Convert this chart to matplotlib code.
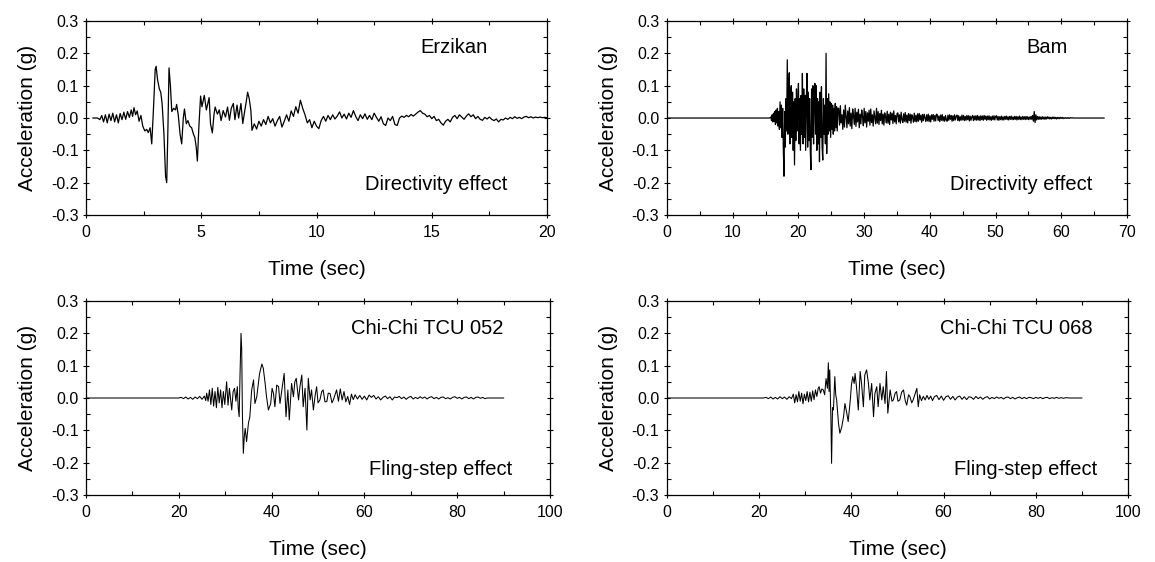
import numpy as np
import matplotlib
matplotlib.use("Agg")
import matplotlib.pyplot as plt
from matplotlib.ticker import MultipleLocator, FormatStrFormatter

plt.rcParams['font.family'] = ['Liberation Sans', 'DejaVu Sans']

# ---- Erzikan (directivity) : time (s), acceleration (g)
erz_t = [0.30, 0.50, 0.60, 0.68, 0.76, 0.84, 0.92, 1.00, 1.08, 1.16, 1.24, 1.32, 1.40, 1.48,
         1.56, 1.64, 1.72, 1.80, 1.88, 1.96, 2.02, 2.08, 2.15, 2.22, 2.30, 2.38, 2.46, 2.55,
         2.63, 2.70, 2.78, 2.85, 2.92, 3.00, 3.04, 3.10, 3.18, 3.24, 3.30, 3.38, 3.45, 3.50,
         3.55, 3.60, 3.66, 3.72, 3.80, 3.88, 3.93, 4.00, 4.08, 4.15, 4.22, 4.27, 4.35, 4.42,
         4.50, 4.58, 4.66, 4.72, 4.78, 4.83, 4.90, 4.97, 5.03, 5.13, 5.22, 5.34, 5.40, 5.48,
         5.55, 5.60, 5.70, 5.78, 5.86, 5.95, 6.05, 6.14, 6.22, 6.30, 6.39, 6.46, 6.55, 6.62,
         6.72, 6.80, 6.88, 6.95, 7.01, 7.08, 7.15, 7.20]
erz_a = [0.000, 0.000, -0.005, 0.008, -0.012, 0.010, -0.015, 0.012, -0.008, 0.015, -0.012, 0.010, -0.015, 0.014,
         -0.005, 0.018, -0.004, 0.020, 0.002, 0.025, 0.005, 0.032, 0.010, 0.022, -0.010, 0.008, -0.025, -0.040,
         -0.035, -0.045, -0.030, -0.080, 0.020, 0.150, 0.160, 0.120, 0.090, 0.080, 0.045, -0.050, -0.180, -0.200,
         -0.040, 0.155, 0.100, 0.020, 0.030, 0.025, 0.042, 0.010, -0.050, -0.080, 0.000, 0.028, -0.018, -0.008,
         -0.025, -0.030, -0.050, -0.060, -0.090, -0.133, -0.020, 0.068, 0.035, 0.070, 0.025, 0.063, -0.018, -0.046,
         0.010, 0.034, 0.012, 0.025, -0.008, 0.023, 0.003, 0.034, -0.007, 0.030, 0.045, -0.005, 0.040, 0.000,
         0.045, -0.017, 0.020, 0.050, 0.080, 0.060, 0.024, -0.038]
# Erzikan after 7.2 s, one reading every 0.1 s up to 20 s
erz_tail_dt = 0.1
erz_tail = [-0.018, -0.034, -0.010, -0.025, -0.005, -0.020, 0.005, -0.015, -0.002, -0.025,
            -0.008, 0.005, -0.028, -0.010, 0.010, -0.010, 0.022, 0.005, 0.035, 0.015,
            0.055, 0.030, 0.010, -0.015, -0.005, -0.030, -0.010, -0.025, -0.033, -0.008,
            0.005, -0.010, 0.008, -0.005, 0.010, -0.003, 0.006, 0.019, 0.000, 0.012,
            -0.003, 0.015, 0.002, 0.023, 0.005, -0.008, 0.010, -0.002, 0.013, -0.004,
            0.008, -0.005, 0.015, 0.002, -0.010, 0.004, -0.018, -0.023, 0.000, -0.008,
            0.005, -0.020, -0.023, 0.000, 0.006, 0.002, 0.008, 0.004, 0.011, 0.006,
            0.012, 0.018, 0.023, 0.015, 0.012, 0.004, 0.008, -0.002, 0.005, -0.008,
            -0.004, -0.015, -0.022, -0.010, -0.004, -0.012, 0.002, 0.008, -0.002, 0.010,
            0.003, -0.004, 0.006, 0.013, 0.004, 0.010, -0.002, 0.005, -0.004, -0.007,
            0.002, -0.003, 0.003, -0.004, -0.008, -0.003, -0.012, -0.004, -0.006, 0.000,
            -0.004, 0.002, -0.002, 0.004, -0.001, 0.002, -0.002, 0.003, 0.005, 0.001,
            0.004, 0.000, 0.003, 0.001, 0.003, 0.001, 0.002, 0.001]

# ---- Bam (directivity): quiet lead-in and strong-motion part
bam_t = [0.0, 15.6, 15.8, 15.9, 16.0, 16.1, 16.2, 16.3, 16.4, 16.5, 16.6, 16.7, 16.8, 16.9, 17.0,
         17.1, 17.2, 17.3, 17.4, 17.5, 17.6, 17.7, 17.8, 17.9, 18.0, 18.1, 18.2, 18.3, 18.4, 18.5,
         18.6, 18.7, 18.8, 18.9, 19.0, 19.1, 19.2, 19.3, 19.4, 19.5, 19.6, 19.7, 19.8, 19.9, 20.0,
         20.1, 20.2, 20.3, 20.4, 20.5, 20.6, 20.7, 20.8, 20.9, 21.0, 21.1, 21.2, 21.3, 21.4, 21.5,
         21.6, 21.7, 21.8, 21.9, 22.0, 22.1, 22.2, 22.3, 22.4, 22.5, 22.6, 22.7, 22.8, 22.9, 23.0,
         23.1, 23.2, 23.3, 23.4, 23.5, 23.6, 23.7, 23.8, 23.9, 24.0, 24.1, 24.2, 24.3, 24.4, 24.5,
         24.6, 24.7, 24.8, 24.9, 25.0, 25.1, 25.2, 25.3, 25.4, 25.5, 25.6, 25.7, 25.8, 25.9, 26.0]
bam_a = [0.0, 0.0, 0.003, -0.008, 0.010, -0.012, 0.015, -0.010, 0.020, -0.020, 0.025, -0.015, 0.030, -0.025, 0.020,
         -0.035, 0.050, -0.030, 0.040, -0.060, 0.030, -0.100, -0.180, 0.020, -0.090, 0.060, -0.040, 0.180, -0.050, 0.090,
         0.140, -0.080, 0.060, 0.100, -0.060, 0.080, -0.100, 0.050, -0.145, 0.060, -0.070, 0.090, -0.040, 0.050, 0.107,
         -0.080, 0.060, -0.100, 0.070, -0.050, 0.138, -0.080, 0.090, -0.060, 0.070, -0.100, 0.060, 0.138, -0.090, 0.080,
         -0.070, 0.060, -0.100, -0.160, 0.090, -0.060, 0.100, -0.080, 0.070, 0.107, -0.050, 0.100, -0.100, 0.060, -0.080,
         0.050, -0.135, 0.080, -0.060, 0.097, -0.090, -0.130, 0.060, -0.050, 0.040, -0.080, 0.200, -0.110, 0.060, -0.050,
         0.075, -0.040, 0.050, -0.060, 0.045, -0.035, 0.040, -0.050, 0.030, -0.040, 0.045, -0.030, 0.035, -0.040, 0.030]
# Bam coda, one reading every 0.125 s from 26.125 s to 62.0 s, then flat to 66.5 s
bam_coda_dt = 0.125
bam_coda = [0.030, -0.022, 0.038, -0.015, 0.010, -0.035, 0.025, -0.028, 0.040, 0.005, -0.030, 0.022,
            -0.018, 0.032, -0.025, 0.015, -0.033, 0.028, 0.008, -0.020, 0.030, -0.026, 0.018, -0.012,
            0.027, -0.030, 0.012, -0.018, 0.025, 0.004, -0.024, 0.030, -0.015, 0.020, -0.028, 0.016,
            -0.010, 0.024, -0.022, 0.028, -0.014, 0.010, -0.025, 0.022, 0.002, -0.018, 0.030, -0.016,
            0.020, -0.020, 0.014, -0.008, 0.024, -0.018, 0.012, -0.022, 0.016, 0.003, -0.015, 0.021,
            -0.016, 0.012, -0.020, 0.018, -0.006, 0.015, -0.017, 0.022, -0.012, 0.008, -0.018, 0.014,
            0.016, -0.012, 0.010, -0.016, 0.018, -0.004, -0.014, 0.013, -0.010, 0.017, -0.013, 0.009,
            -0.015, 0.014, -0.008, 0.012, -0.016, 0.010, 0.002, -0.013, 0.015, -0.011, 0.008, -0.012,
            0.013, -0.010, 0.014, -0.006, 0.009, -0.013, 0.011, -0.008, 0.012, 0.001, -0.011, 0.010,
            -0.009, 0.012, -0.011, 0.007, -0.012, 0.010, -0.004, 0.011, -0.010, 0.008, -0.009, 0.012,
            0.010, -0.008, 0.006, -0.011, 0.009, -0.007, 0.011, -0.009, 0.004, -0.010, 0.008, -0.006,
            -0.010, 0.009, -0.007, 0.010, -0.004, 0.008, -0.010, 0.007, -0.008, 0.010, -0.006, 0.005,
            0.009, -0.008, 0.007, -0.009, 0.004, -0.007, 0.009, -0.006, 0.008, -0.008, 0.005, -0.007,
            0.008, -0.005, 0.007, -0.009, 0.006, -0.007, 0.003, 0.008, -0.008, 0.006, -0.006, 0.007,
            -0.007, 0.008, -0.006, 0.005, -0.008, 0.007, -0.005, 0.006, -0.007, 0.008, -0.004, 0.006,
            -0.007, 0.006, -0.005, 0.007, -0.006, 0.004, -0.007, 0.006, -0.005, 0.007, -0.006, 0.005,
            0.007, -0.006, 0.005, -0.007, 0.004, -0.005, 0.006, -0.006, 0.004, -0.006, 0.005, -0.004,
            0.006, -0.005, 0.004, -0.006, 0.005, -0.004, 0.006, -0.005, 0.003, -0.005, 0.005, -0.004,
            0.005, -0.006, 0.004, -0.004, 0.006, -0.005, 0.003, -0.005, 0.005, -0.004, 0.004, -0.005,
            0.005, -0.004, 0.004, -0.005, 0.003, -0.004, 0.005, -0.004, 0.008, -0.010, 0.020, -0.014,
            0.010, -0.006, 0.005, -0.004, 0.004, -0.004, 0.003, -0.004, 0.004, -0.003, 0.003, -0.004,
            0.003, -0.003, 0.004, -0.002, 0.003, -0.003, 0.002, -0.003, 0.003, -0.002, 0.003, -0.002,
            0.002, -0.003, 0.002, -0.002, 0.002, -0.002, 0.002, -0.001, 0.002, -0.002, 0.001, -0.001,
            0.001, -0.001, 0.001, -0.001, 0.001, -0.001, 0.001, 0.000, 0.001, 0.000, 0.000, 0.000]
bam_end = 66.5

# ---- Chi-Chi TCU 052 (fling-step)
tcu052_t = [0.0, 20.0, 20.5, 21.0, 21.5, 22.0, 22.5, 23.0, 23.5, 24.0, 24.5, 25.0, 25.5, 25.8, 26.0,
            26.3, 26.6, 26.9, 27.2, 27.5, 27.8, 28.1, 28.4, 28.7, 29.0, 29.3, 29.6, 29.9, 30.3, 30.6,
            30.9, 31.2, 31.4, 31.7, 32.0, 32.3, 32.6, 32.8, 33.0, 33.2, 33.4, 33.55, 33.7, 33.9, 34.1,
            34.3, 34.6, 35.0, 35.3, 35.7, 36.1, 36.4, 36.8, 37.4, 37.9, 38.2, 38.6, 38.9, 39.3, 39.8,
            40.1, 40.4, 40.7, 41.1, 41.5, 41.8, 42.2, 42.7, 43.1, 43.5, 43.8, 44.3, 44.7, 45.0, 45.3,
            45.8, 46.1, 46.5, 46.8, 47.2, 47.6, 47.9, 48.3, 48.6, 49.0, 49.4, 49.7, 50.0, 50.4, 50.8,
            51.1, 51.5, 51.9, 52.2, 52.6, 53.0, 53.3, 53.7, 54.0, 54.4, 54.8, 55.2, 55.6, 56.0, 56.4,
            56.8, 57.2, 57.6, 58.0, 58.5, 59.0, 59.5, 60.0, 60.5, 61.0, 61.5, 62.0, 62.5, 63.0, 63.5,
            64.0, 64.5, 65.0, 65.5, 66.0, 66.5, 67.0, 67.5, 68.0, 68.5, 69.0, 69.5, 70.0, 70.5, 71.0,
            71.5, 72.0, 72.5, 73.0, 73.5, 74.0, 74.5, 75.0, 75.5, 76.0, 76.5, 77.0, 77.5, 78.0, 78.5,
            79.0, 79.5, 80.0, 80.5, 81.0, 81.5, 82.0, 82.5, 83.0, 83.5, 84.0, 84.5, 85.0, 85.5, 86.0,
            86.4, 90.0]
tcu052_a = [0.0, 0.0, 0.002, -0.002, 0.003, -0.003, 0.002, -0.004, 0.003, -0.002, 0.005, -0.004, 0.006, -0.008, 0.015,
            -0.010, 0.025, -0.020, 0.030, -0.025, 0.020, -0.030, 0.033, -0.015, 0.025, -0.030, 0.020, -0.020, 0.050, -0.022,
            0.030, -0.010, -0.037, 0.020, 0.030, -0.010, 0.035, -0.031, -0.058, 0.080, 0.200, 0.150, -0.050, -0.171, -0.120,
            -0.094, -0.135, -0.078, -0.058, 0.025, 0.056, -0.017, 0.004, 0.076, 0.105, 0.092, 0.045, 0.004, -0.037, -0.017,
            0.030, 0.014, -0.027, 0.040, 0.035, -0.017, 0.025, 0.076, -0.058, 0.025, -0.068, 0.045, 0.004, 0.050, 0.061,
            -0.006, 0.035, 0.071, -0.027, 0.030, -0.099, 0.061, -0.006, 0.025, -0.037, 0.010, 0.035, -0.015, -0.006, 0.020,
            0.025, -0.012, -0.011, 0.015, 0.014, -0.015, -0.006, 0.012, 0.025, -0.010, 0.028, -0.006, 0.020, -0.012, 0.005,
            -0.020, 0.012, -0.005, 0.010, -0.003, 0.008, -0.004, 0.006, -0.006, 0.009, 0.002, 0.008, -0.003, 0.004, -0.006,
            0.002, 0.006, -0.002, 0.004, -0.006, 0.003, 0.001, 0.005, -0.002, 0.003, -0.004, 0.002, 0.005, -0.003, 0.002,
            -0.002, 0.004, -0.001, 0.003, -0.003, 0.002, 0.004, -0.002, 0.002, -0.003, 0.002, 0.003, -0.002, 0.001, -0.003,
            0.002, 0.004, -0.001, 0.002, -0.003, 0.002, 0.003, -0.002, 0.002, -0.003, 0.002, 0.003, -0.001, 0.002, -0.002,
            0.000, 0.000]

# ---- Chi-Chi TCU 068 (fling-step)
tcu068_t = [0.0, 20.9, 21.5, 22.0, 22.5, 23.0, 23.5, 24.0, 24.5, 25.0, 25.5, 26.0, 26.5, 27.0, 27.4,
            27.7, 28.0, 28.3, 28.6, 28.9, 29.2, 29.5, 29.8, 30.1, 30.4, 30.7, 31.0, 31.3, 31.6, 31.9,
            32.2, 32.5, 32.8, 33.0, 33.3, 33.6, 33.9, 34.2, 34.5, 34.8, 35.0, 35.15, 35.3, 35.45, 35.55,
            35.7, 35.9, 36.1, 36.4, 36.6, 36.8, 37.2, 37.5, 37.9, 38.3, 38.6, 39.0, 39.3, 39.8, 40.0,
            40.3, 40.6, 40.8, 41.1, 41.5, 41.9, 42.2, 42.6, 42.9, 43.3, 43.7, 44.0, 44.4, 44.8, 45.1,
            45.5, 45.8, 46.2, 46.6, 46.9, 47.3, 47.6, 47.9, 48.4, 48.8, 49.1, 49.5, 49.8, 50.1, 50.5,
            50.9, 51.3, 51.7, 52.0, 52.4, 52.7, 53.1, 53.4, 53.8, 54.2, 54.5, 54.8, 55.2, 55.6, 56.0,
            56.4, 56.8, 57.2, 57.6, 58.0, 58.5, 59.0, 59.5, 60.0, 60.5, 61.0, 61.5, 62.0, 62.5, 63.0,
            63.5, 64.0, 64.5, 65.0, 65.5, 66.0, 66.5, 67.0, 67.5, 68.0, 68.5, 69.0, 69.5, 70.0, 70.5,
            71.0, 71.5, 72.0, 72.5, 73.0, 73.5, 74.0, 74.5, 75.0, 75.5, 76.0, 76.5, 77.0, 77.5, 78.0,
            78.5, 79.0, 79.5, 80.0, 80.5, 81.0, 81.5, 82.0, 82.5, 83.0, 83.5, 84.0, 84.5, 85.0, 85.5,
            86.0, 86.5, 87.4, 90.0]
tcu068_a = [0.0, 0.0, 0.002, -0.002, 0.003, -0.003, 0.002, -0.003, 0.004, -0.002, 0.003, -0.004, 0.004, -0.002, 0.012,
            -0.015, 0.010, -0.012, 0.020, -0.010, 0.015, -0.018, 0.012, -0.008, 0.020, -0.012, 0.018, -0.010, 0.022, -0.005,
            0.025, 0.005, 0.030, 0.035, 0.015, 0.028, 0.025, 0.010, 0.060, 0.030, 0.109, 0.020, 0.087, 0.000, -0.060,
            -0.202, -0.030, -0.037, 0.066, 0.010, -0.006, -0.078, -0.109, -0.090, -0.058, -0.017, -0.047, -0.073, 0.000, 0.040,
            0.066, 0.045, 0.076, 0.035, -0.037, 0.082, 0.045, -0.027, 0.071, 0.087, 0.045, -0.006, 0.045, -0.058, 0.014,
            0.035, -0.027, 0.045, -0.006, 0.035, -0.017, 0.082, -0.047, 0.025, -0.010, -0.006, 0.015, 0.020, -0.010, -0.006,
            0.018, 0.025, -0.010, -0.022, 0.010, 0.004, -0.015, -0.006, 0.012, 0.030, -0.027, 0.010, -0.008, 0.005, -0.006,
            0.008, -0.004, 0.006, -0.008, 0.004, 0.008, -0.005, 0.006, -0.007, 0.004, 0.007, -0.004, 0.005, -0.006, 0.003,
            0.006, -0.004, 0.004, -0.005, 0.004, 0.002, -0.004, 0.005, -0.002, 0.003, -0.004, 0.002, 0.004, -0.003, 0.002,
            -0.002, 0.003, -0.001, 0.002, -0.003, 0.002, 0.003, -0.002, 0.002, -0.003, 0.001, 0.003, -0.002, 0.002, -0.002,
            0.002, 0.001, -0.002, 0.002, -0.001, 0.002, -0.002, 0.001, 0.002, -0.002, 0.001, -0.001, 0.002, -0.001, 0.001,
            -0.001, 0.001, 0.000, 0.000]

# assemble the sampled parts
erz_time = np.concatenate([erz_t, erz_t[-1] + erz_tail_dt * np.arange(1, len(erz_tail) + 1)])
erz_acc = np.concatenate([erz_a, erz_tail])
bam_time = np.concatenate([bam_t, 26.0 + bam_coda_dt * np.arange(1, len(bam_coda) + 1), [bam_end]])
bam_acc = np.concatenate([bam_a, bam_coda, [0.0]])

panels = [
    # (time, acc, xmax, xstep, name, effect, axes rect, name xy, effect xy, lw)
    (erz_time, erz_acc, 20, 5, 'Erzikan', 'Directivity effect',
     [0.0745, 0.6174, 0.3991, 0.3452], (0.872, 0.866), (0.915, 0.155), 0.9),
    (bam_time, bam_acc, 70, 10, 'Bam', 'Directivity effect',
     [0.5775, 0.6174, 0.3983, 0.3452], (0.872, 0.866), (0.924, 0.155), 0.9),
    (tcu052_t, tcu052_a, 100, 20, 'Chi-Chi TCU 052', 'Fling-step effect',
     [0.0745, 0.1192, 0.4017, 0.3452], (0.900, 0.860), (0.918, 0.129), 0.75),
    (tcu068_t, tcu068_a, 100, 20, 'Chi-Chi TCU 068', 'Fling-step effect',
     [0.5775, 0.1192, 0.3991, 0.3452], (0.924, 0.860), (0.933, 0.129), 0.75),
]

fig = plt.figure(figsize=(11.55, 5.62), dpi=100)

for t, a, xmax, xstep, name, effect, rect, name_xy, eff_xy, lw in panels:
    ax = fig.add_axes(rect)
    ax.plot(t, a, color='black', lw=lw)
    ax.set_xlim(0, xmax)
    ax.set_ylim(-0.3, 0.3)
    ax.xaxis.set_major_locator(MultipleLocator(xstep))
    ax.xaxis.set_minor_locator(MultipleLocator(xstep / 2))
    ax.yaxis.set_major_locator(MultipleLocator(0.1))
    ax.yaxis.set_minor_locator(MultipleLocator(0.05))
    ax.yaxis.set_major_formatter(FormatStrFormatter('%.1f'))
    ax.tick_params(which='major', direction='inout', length=5, width=0.8,
                   top=True, right=True, labelsize=11.5, pad=3)
    ax.tick_params(axis='x', which='major', pad=5)
    ax.tick_params(which='minor', direction='in', length=3, width=0.8, top=True, right=True)
    for s in ax.spines.values():
        s.set_linewidth(0.9)
    ax.set_xlabel('Time (sec)', fontsize=15, labelpad=14)
    ax.set_ylabel('Acceleration (g)', fontsize=15, labelpad=10)
    ax.text(name_xy[0], name_xy[1], name, transform=ax.transAxes,
            ha='right', va='center', fontsize=14.5)
    ax.text(eff_xy[0], eff_xy[1], effect, transform=ax.transAxes,
            ha='right', va='center', fontsize=14.5)

fig.savefig('out.png', dpi=100)
